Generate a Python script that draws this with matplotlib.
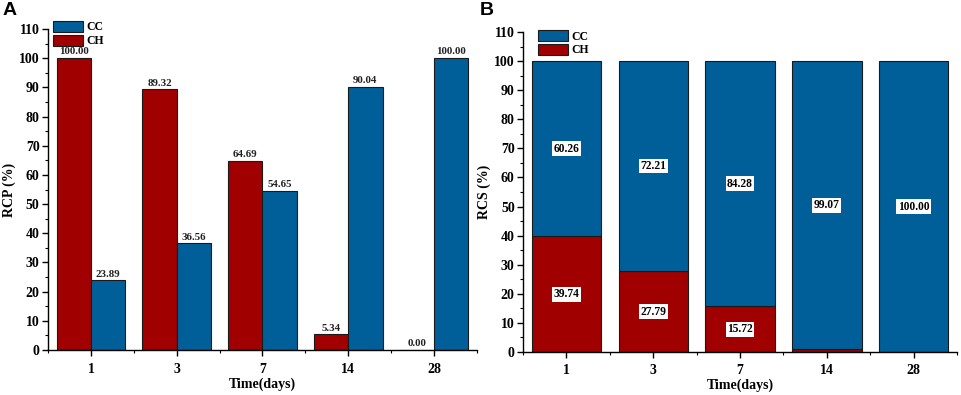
import matplotlib
matplotlib.use("Agg")
import matplotlib.pyplot as plt
import numpy as np
from matplotlib.patches import Patch
from matplotlib.ticker import MultipleLocator, FixedLocator

days = ["1", "3", "7", "14", "28"]
rcp_ch = [100.00, 89.32, 64.69, 5.34, 0.00]
rcp_cc = [23.89, 36.56, 54.65, 90.04, 100.00]
rcs_ch = [39.74, 27.79, 15.72, 0.93, 0.00]
rcs_cc = [60.26, 72.21, 84.28, 99.07, 100.00]
rcs_ch_labels = ["39.74", "27.79", "15.72", "", ""]
rcs_cc_labels = ["60.26", "72.21", "84.28", "99.07", "100.00"]

BLUE = "#005f98"
RED = "#a00000"
EDGE = "#1a1a1a"
SERIF = "Liberation Serif"

fig = plt.figure(figsize=(9.62, 3.95), dpi=100)
axA = fig.add_axes([0.0499, 0.1139, 0.4459, 0.8127])
axB = fig.add_axes([0.5437, 0.1089, 0.4511, 0.8101])

x = np.arange(len(days))

def style(ax, ylabel, labelpad):
    ax.set_xlim(-0.5, len(days) - 0.5)
    ax.set_ylim(0, 110)
    for s in ("top", "right"):
        ax.spines[s].set_visible(False)
    for s in ("left", "bottom"):
        ax.spines[s].set_linewidth(1.0)
    ax.set_xticks(x)
    ax.set_xticklabels(days, fontfamily=SERIF, fontweight="bold", fontsize=10)
    ax.xaxis.set_minor_locator(FixedLocator(np.arange(-0.5, len(days), 1.0)))
    ax.yaxis.set_major_locator(MultipleLocator(10))
    ax.yaxis.set_minor_locator(MultipleLocator(5))
    for lab in ax.get_yticklabels():
        lab.set_fontfamily(SERIF)
        lab.set_fontweight("bold")
        lab.set_fontsize(10)
    ax.tick_params(axis="both", which="major", direction="out", length=4, width=1)
    ax.tick_params(axis="x", which="major", pad=5)
    ax.tick_params(axis="y", which="major", pad=2)
    ax.tick_params(axis="both", which="minor", direction="out", length=2.5, width=0.8)
    ax.set_xlabel("Time(days)", fontfamily=SERIF, fontweight="bold", fontsize=10, labelpad=labelpad)
    ax.set_ylabel(ylabel, fontfamily=SERIF, fontweight="bold", fontsize=10, labelpad=2)

# Panel A: grouped bars
w = 0.4
bch = axA.bar(x - w / 2, rcp_ch, width=w, color=RED, edgecolor=EDGE, linewidth=0.8)
bcc = axA.bar(x + w / 2, rcp_cc, width=w, color=BLUE, edgecolor=EDGE, linewidth=0.8)
for bars, vals in ((bch, rcp_ch), (bcc, rcp_cc)):
    for b, v in zip(bars, vals):
        axA.text(b.get_x() + b.get_width() / 2, v + 0.6, f"{v:.2f}",
                 ha="center", va="bottom", fontfamily=SERIF, fontweight="bold",
                 fontsize=7.8, color="#222222")
style(axA, "RCP (%)", 1.5)

# Panel B: stacked bars
wb = 0.8
b1 = axB.bar(x, rcs_ch, width=wb, color=RED, edgecolor=EDGE, linewidth=0.8)
b2 = axB.bar(x, rcs_cc, width=wb, bottom=rcs_ch, color=BLUE, edgecolor=EDGE, linewidth=0.8)
bbox = dict(boxstyle="square,pad=0.12", facecolor="white", edgecolor="none")
for i in range(len(days)):
    if rcs_ch_labels[i]:
        axB.text(x[i], rcs_ch[i] / 2, rcs_ch_labels[i], ha="center", va="center",
                 fontfamily=SERIF, fontweight="bold", fontsize=8.3, bbox=bbox)
    if rcs_cc_labels[i]:
        axB.text(x[i], rcs_ch[i] + rcs_cc[i] / 2, rcs_cc_labels[i], ha="center", va="center",
                 fontfamily=SERIF, fontweight="bold", fontsize=8.3, bbox=bbox)
style(axB, "RCS (%)", 0.5)

handles = [Patch(facecolor=BLUE, edgecolor=EDGE, linewidth=0.8, label="CC"),
           Patch(facecolor=RED, edgecolor=EDGE, linewidth=0.8, label="CH")]
for ax, loc in ((axA, (0.012, 1.025)), (axB, (0.035, 1.006))):
    ax.legend(handles=handles, loc="upper left", bbox_to_anchor=loc, frameon=False,
              prop={"family": SERIF, "weight": "bold", "size": 8.5},
              handlelength=2.5, handleheight=1.05, handletextpad=0.3,
              labelspacing=0.12, borderaxespad=0.0, borderpad=0.0)

fig.text(0.003, 0.995, "A", ha="left", va="top", fontfamily="Liberation Sans",
         fontweight="bold", fontsize=14)
fig.text(0.499, 0.995, "B", ha="left", va="top", fontfamily="Liberation Sans",
         fontweight="bold", fontsize=14)

fig.savefig("out.png", dpi=100)
